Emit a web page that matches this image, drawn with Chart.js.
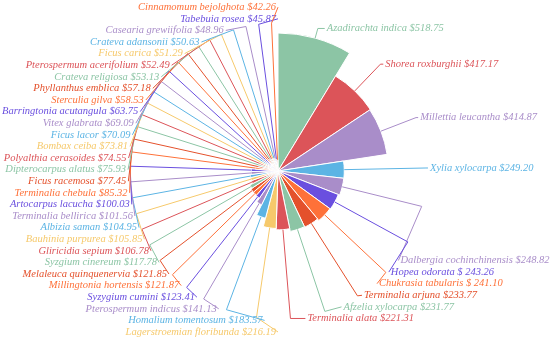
<!DOCTYPE html>
<html lang="en">
<head>
  <meta charset="UTF-8" />
  <title>Tree species rose chart</title>
  <script src="https://cdn.jsdelivr.net/npm/chart.js@4.4.3/dist/chart.umd.min.js"></script>
  <style>
    html, body {
      margin: 0;
      padding: 0;
      background: #ffffff;
    }
    .chart-box {
      width: 550px;
      height: 343px;
    }
  </style>
</head>
<body>
  <div class="chart-box">
    <canvas id="roseChart" width="550" height="343"></canvas>
  </div>

  <script>
    // species, clockwise from 12 o'clock
    const names = [
      'Azadirachta indica', 'Shorea roxburghii', 'Millettia leucantha', 'Xylia xylocarpa',
      'Dalbergia cochinchinensis', 'Hopea odorata', 'Chukrasia tabularis', 'Terminalia arjuna',
      'Afzelia xylocarpa', 'Terminalia alata', 'Lagerstroemian floribunda', 'Homalium tomentosum',
      'Pterospermum indicus', 'Syzygium cumini', 'Millingtonia hortensis', 'Melaleuca quinquenervia',
      'Syzgium cinereum', 'Gliricidia sepium', 'Bauhinia purpurea', 'Albizia saman',
      'Terminalia bellirica', 'Artocarpus lacucha', 'Terminalia chebula', 'Ficus racemosa',
      'Dipterocarpus alatus', 'Polyalthia cerasoides', 'Bombax ceiba', 'Ficus lacor',
      'Vitex glabrata', 'Barringtonia acutangula', 'Sterculia gilva', 'Phyllanthus emblica',
      'Crateva religiosa', 'Pterospermum acerifolium', 'Ficus carica', 'Crateva adansonii',
      'Casearia grewiifolia', 'Tabebuia rosea', 'Cinnamomum bejolghota'
    ];

    // value in $
    const values = [
      518.75, 417.17, 414.87, 249.20,
      248.82, 243.26, 241.10, 233.77,
      231.77, 221.31, 216.19, 183.57,
      141.13, 123.41, 121.87, 121.85,
      117.78, 106.78, 105.85, 104.95,
      101.56, 100.03, 85.32, 77.45,
      75.93, 74.55, 73.81, 70.09,
      69.09, 63.75, 58.53, 57.18,
      53.13, 52.49, 51.29, 50.63,
      48.96, 45.87, 42.26
    ];

    // these two labels were written with a space after the $
    const spacedDollar = ['Hopea odorata', 'Chukrasia tabularis'];

    const palette = ['#8cc5a5', '#dc5459', '#f6c96b', '#5cb4e4', '#a98dc9', '#6a4fdf', '#fe7139', '#e4512c'];
    const colors = names.map((n, i) => i === 2 ? palette[4] : palette[i % palette.length]);

    // slice angle follows the value, small slices get at least 5 degrees
    const MIN_ANGLE = 5;
    const total = values.reduce((a, b) => a + b, 0);
    let restAngle = 360;
    let bigSum = 0;
    values.forEach(v => {
      if (v / total * 360 < MIN_ANGLE) restAngle -= MIN_ANGLE;
      else bigSum += v;
    });
    const angles = values.map(v => (v / total * 360 < MIN_ANGLE) ? MIN_ANGLE : v * restAngle / bigSum);

    function labelText(i) {
      const sp = spacedDollar.includes(names[i]) ? ' ' : '';
      return names[i] + ' $' + sp + values[i].toFixed(2);
    }

    // outside labels with leader lines
    const roseLabels = {
      id: 'roseLabels',
      afterDatasetsDraw(chart) {
        const ctx = chart.ctx;
        const arcs = chart.getDatasetMeta(0).data;
        const cx = arcs[0].x;
        const cy = arcs[0].y;
        const turnR = 148, labelR = 150, gap = 11.6;
        const top = 8, bottom = 332;

        const items = arcs.map((arc, i) => {
          const mid = (arc.startAngle + arc.endAngle) / 2;
          const c = Math.cos(mid), s = Math.sin(mid);
          return {
            i: i,
            right: c >= 0,
            edge: [cx + c * arc.outerRadius, cy + s * arc.outerRadius],
            turn: [cx + c * turnR, cy + s * turnR],
            y0: cy + s * turnR
          };
        });

        function placeSide(list) {
          list.sort((a, b) => a.y0 - b.y0);
          const upper = list.filter(it => it.y0 < cy);
          const lower = list.filter(it => it.y0 >= cy);
          upper.forEach(it => { it.ly = it.y0; });
          // lower half is stacked on its lowest label
          for (let k = lower.length - 1; k >= 0; k--) {
            lower[k].ly = (k === lower.length - 1) ? lower[k].y0 : lower[k + 1].ly - gap;
          }
          const all = upper.concat(lower);
          let prev = top - gap;
          all.forEach(it => { it.ly = Math.max(it.ly, prev + gap); prev = it.ly; });
          let next = bottom + gap;
          for (let k = all.length - 1; k >= 0; k--) {
            all[k].ly = Math.min(all[k].ly, next - gap);
            next = all[k].ly;
          }
        }
        placeSide(items.filter(it => it.right));
        placeSide(items.filter(it => !it.right));

        ctx.save();
        ctx.font = 'italic 10.5px "Liberation Serif", "Times New Roman", serif';
        ctx.textBaseline = 'middle';
        ctx.lineWidth = 1;
        items.forEach(it => {
          const dy = it.ly - cy;
          const dx = Math.sqrt(Math.max(0, labelR * labelR - dy * dy));
          const ax = it.right ? cx + dx : cx - dx;
          ctx.strokeStyle = colors[it.i];
          ctx.beginPath();
          ctx.moveTo(it.edge[0], it.edge[1]);
          ctx.lineTo(it.turn[0], it.turn[1]);
          ctx.lineTo(ax, it.ly);
          ctx.stroke();
          ctx.fillStyle = colors[it.i];
          ctx.textAlign = it.right ? 'left' : 'right';
          ctx.fillText(labelText(it.i), it.right ? ax + 2 : ax - 2, it.ly);
        });
        ctx.restore();
      }
    };

    new Chart(document.getElementById('roseChart'), {
      type: 'polarArea',
      data: {
        labels: names,
        datasets: [{
          data: values,
          backgroundColor: colors,
          borderColor: '#ffffff',
          borderWidth: 1,
          angle: ctx => angles[ctx.dataIndex]
        }]
      },
      options: {
        responsive: false,
        animation: false,
        layout: {
          padding: { top: 33, bottom: 34, left: 140, right: 134 }
        },
        scales: {
          r: {
            min: 0,
            max: Math.max(...values),
            ticks: { display: false },
            grid: { display: false },
            angleLines: { display: false },
            pointLabels: { display: false }
          }
        },
        plugins: {
          legend: { display: false },
          tooltip: { enabled: false }
        }
      },
      plugins: [roseLabels]
    });
  </script>
</body>
</html>
